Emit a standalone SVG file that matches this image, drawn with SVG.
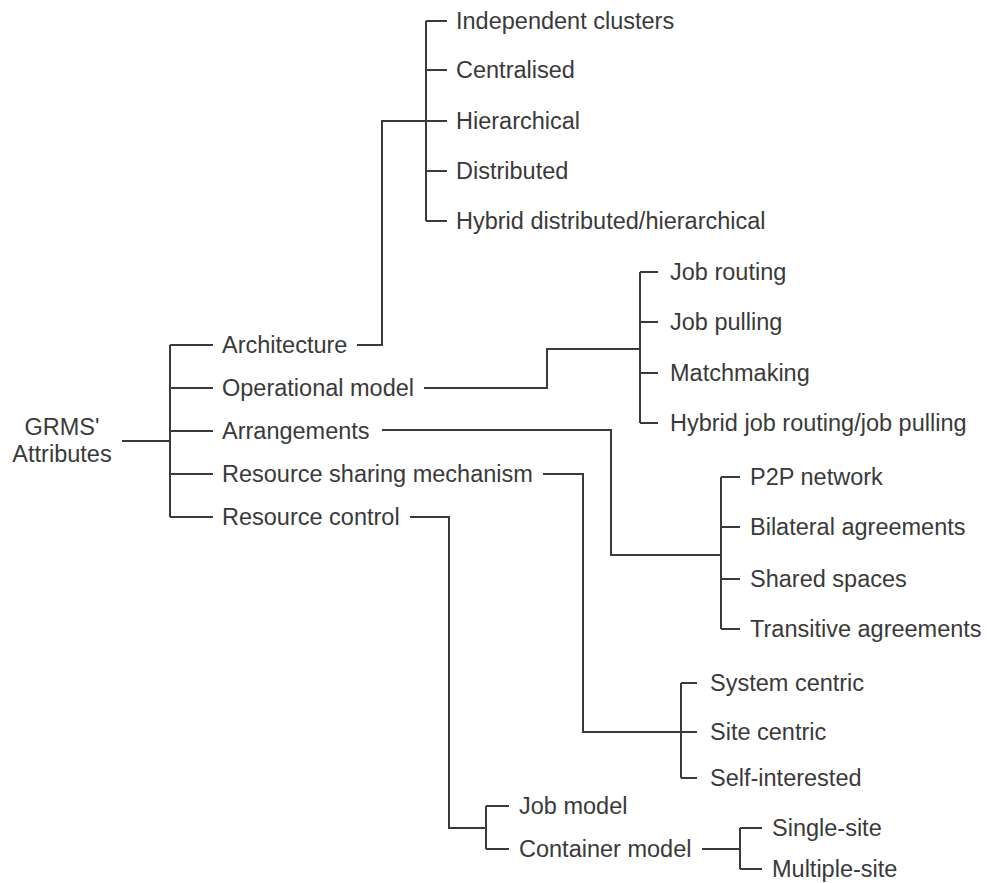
<svg xmlns="http://www.w3.org/2000/svg" width="987" height="883" viewBox="0 0 987 883">
<style>
text{font-family:"Liberation Sans",Arial,Helvetica,sans-serif;font-size:23.5px;fill:#3a3a3a}
.c{text-anchor:middle}
#connectors path{fill:none;stroke:#3a3a3a;stroke-width:2;stroke-linejoin:miter;stroke-linecap:butt}
</style>
<rect width="987" height="883" fill="#ffffff"/>
<g id="connectors">
<!-- root -->
<path d="M122,441H170M170,345V517M170,345H213M170,388H213M170,431H213M170,474H213M170,517H213"/>
<!-- architecture -->
<path d="M357,345H382V121H426M426,21V221M426,21H447M426,70H447M426,121H447M426,171H447M426,221H447"/>
<!-- operational model -->
<path d="M424,388H547V349H640M640,272V423M640,272H658M640,322H658M640,373H658M640,423H658"/>
<!-- arrangements -->
<path d="M382,430H611V555H721M721,477V629M721,477H740M721,527H740M721,579H740M721,629H740"/>
<!-- resource sharing mechanism -->
<path d="M543,474H583V732H681M681,683V778M681,683H697M681,732H697M681,778H697"/>
<!-- resource control -->
<path d="M410,517H449V828H486M486,806V849M486,806H509M486,849H509"/>
<!-- container model -->
<path d="M702,849H740M740,828V869M740,828H762M740,869H762"/>
</g>
<g id="root"><text class="c" x="62" y="435">GRMS'</text><text class="c" x="62" y="462">Attributes</text></g>
<g id="architecture"><text x="222" y="353">Architecture</text></g>
<g id="operational-model"><text x="222" y="396">Operational model</text></g>
<g id="arrangements"><text x="222" y="439">Arrangements</text></g>
<g id="resource-sharing"><text x="222" y="482">Resource sharing mechanism</text></g>
<g id="resource-control"><text x="222" y="525">Resource control</text></g>
<g id="independent-clusters"><text x="456" y="29">Independent clusters</text></g>
<g id="centralised"><text x="456" y="78">Centralised</text></g>
<g id="hierarchical"><text x="456" y="129">Hierarchical</text></g>
<g id="distributed"><text x="456" y="179">Distributed</text></g>
<g id="hybrid-dist-hier"><text x="456" y="229">Hybrid distributed/hierarchical</text></g>
<g id="job-routing"><text x="670" y="280">Job routing</text></g>
<g id="job-pulling"><text x="670" y="330">Job pulling</text></g>
<g id="matchmaking"><text x="670" y="381">Matchmaking</text></g>
<g id="hybrid-routing-pulling"><text x="670" y="431">Hybrid job routing/job pulling</text></g>
<g id="p2p-network"><text x="750" y="485">P2P network</text></g>
<g id="bilateral-agreements"><text x="750" y="535">Bilateral agreements</text></g>
<g id="shared-spaces"><text x="750" y="587">Shared spaces</text></g>
<g id="transitive-agreements"><text x="750" y="637">Transitive agreements</text></g>
<g id="system-centric"><text x="710" y="691">System centric</text></g>
<g id="site-centric"><text x="710" y="740">Site centric</text></g>
<g id="self-interested"><text x="710" y="786">Self-interested</text></g>
<g id="job-model"><text x="519" y="814">Job model</text></g>
<g id="container-model"><text x="519" y="857">Container model</text></g>
<g id="single-site"><text x="772" y="836">Single-site</text></g>
<g id="multiple-site"><text x="772" y="877">Multiple-site</text></g>
</svg>
